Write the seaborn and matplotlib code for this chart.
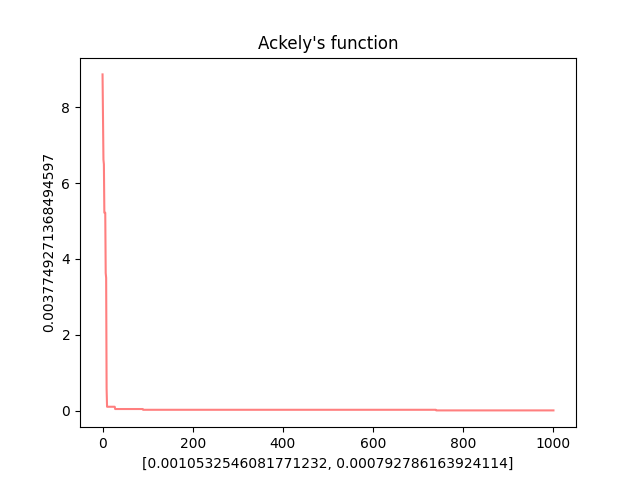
import numpy as np
import pandas as pd
import matplotlib
matplotlib.use("Agg")
import matplotlib.pyplot as plt
import seaborn as sns

# best-so-far value of Ackley's function, given as (iteration where it changes, new value)
change_iters = [0, 1, 2, 3, 4, 7, 8, 9, 10, 28, 90, 740]
change_vals = [8.87, 7.8, 6.62, 6.5, 5.22, 3.63, 3.5, 0.58, 0.1, 0.04, 0.02, 0.0037749271368494597]
n_iter = 1001

best_pos = [0.0010532546081771232, 0.000792786163924114]
best_val = 0.0037749271368494597

# hold each value until the next change
runs = np.diff(change_iters + [n_iter])
history = np.repeat(change_vals, runs)
df = pd.DataFrame({"iter": np.arange(n_iter), "best": history})

fig, ax = plt.subplots(figsize=(6.4, 4.8), dpi=100)
sns.lineplot(data=df, x="iter", y="best", color="r", alpha=0.5, ax=ax)
ax.set_title("Ackely's function")
ax.set_xlabel(str(best_pos))
ax.set_ylabel(str(best_val))

plt.savefig("out.png")
